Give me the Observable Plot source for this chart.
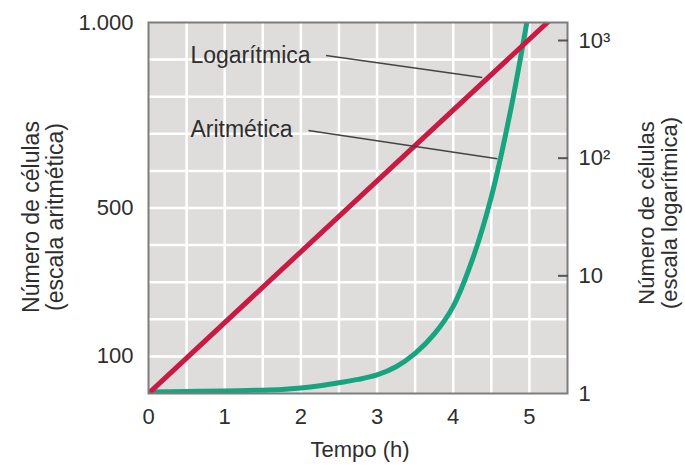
<!DOCTYPE html>
<html><head><meta charset="utf-8">
<script src="https://cdn.jsdelivr.net/npm/d3@7"></script>
<script src="https://cdn.jsdelivr.net/npm/@observablehq/plot@0.6"></script>
<style>body{margin:0;background:#fff}</style>
</head><body><div id="chart"></div>
<script>
// Arithmetic-scale curve (cells vs hours)
const hours = [0, 0.5, 1, 1.5, 1.75, 2, 2.25, 2.5, 2.75, 3, 3.25, 3.5, 3.75, 4, 4.25, 4.5, 4.75, 5];
const arithCells = [4, 5.5, 7, 9, 11, 15, 21, 29, 38, 50, 72, 108, 160, 235, 360, 530, 760, 1040];
// Log-scale line (cells vs hours), straight on the right-hand log axis
const logHours = [0, 5.25];
const logCells = [1, 1450];

const xTicks = [0, 1, 2, 3, 4, 5];
const xGrid = [0.5, 1, 1.5, 2, 2.5, 3, 3.5, 4, 4.5, 5];
const yGrid = [100, 200, 300, 400, 500, 600, 700, 800, 900];
const leftTicks = [100, 500, 1000];
const leftTickLabels = ["100", "500", "1.000"];
const rightTicks = [1, 10, 100, 1000];
const rightTickLabels = ["1", "10", "10²", "10³"];

const seriesLabels = ["Logarítmica", "Aritmética"];
const labelHours = [0.55, 0.55];
const labelCells = [911, 712];
const leaderFromHours = [2.33, 2.1];
const leaderFromCells = [911, 709];
const leaderToHours = [4.38, 4.58];
const leaderToCells = [852, 633];

// right axis: log10 of the count at the top of the frame
const logTop = 3.153;
const k = 1000 / logTop;
const toLeft = v => Math.log10(v) * k;

const arith = hours.map((h, i) => ({h, c: arithCells[i]}));
const logl = logHours.map((h, i) => ({h, c: logCells[i]}));
const labels = seriesLabels.map((t, i) => ({t, h: labelHours[i], c: labelCells[i]}));
const leaders = seriesLabels.map((t, i) => ({x1: leaderFromHours[i], y1: leaderFromCells[i], x2: leaderToHours[i], y2: leaderToCells[i]}));

const red = "#c81a42", green = "#17a47f", ink = "#2e2e2e";
const FS = 22, FT = 23;

const chart = Plot.plot({
  width: 685, height: 474,
  marginLeft: 148, marginRight: 118, marginTop: 22, marginBottom: 81,
  style: {fontFamily: "'Liberation Sans', Arial, Helvetica, sans-serif", fontSize: FS + "px", color: ink, background: "white"},
  x: {domain: [0, 5.5]},
  y: {domain: [0, 1000]},
  marks: [
    Plot.frame({fill: "#dfdddb"}),
    Plot.ruleX(xGrid, {stroke: "white", strokeWidth: 2.5}),
    Plot.ruleY(yGrid, {stroke: "white", strokeWidth: 2.5}),
    Plot.line(arith, {x: "h", y: "c", stroke: green, strokeWidth: 5, curve: "catmull-rom", clip: true}),
    Plot.line(logl, {x: "h", y: d => toLeft(d.c), stroke: red, strokeWidth: 5, clip: true}),
    Plot.link(leaders, {x1: "x1", y1: "y1", x2: "x2", y2: "y2", stroke: "#444", strokeWidth: 1.5}),
    Plot.text(labels, {x: "h", y: "c", text: "t", textAnchor: "start", fontSize: FT, fill: ink}),
    Plot.frame({stroke: "#7d7d7d", strokeWidth: 2}),
    Plot.axisX({ticks: xTicks, tickSize: 0, tickPadding: 15, fontSize: FS, label: null, fill: ink, tickFormat: d => String(d)}),
    Plot.axisY({anchor: "left", ticks: leftTicks, tickSize: 0, tickPadding: 15, fontSize: FS, label: null, fill: ink,
      tickFormat: d => leftTickLabels[leftTicks.indexOf(d)]}),
    Plot.axisY({anchor: "right", ticks: rightTicks.slice(1).map(toLeft), tickSize: 10, dx: -10, tickFormat: () => "",
      label: null, stroke: "#555", strokeWidth: 2}),
    Plot.axisY({anchor: "right", ticks: rightTicks.map(toLeft), tickSize: 0, tickPadding: 11, fontSize: FS, label: null, fill: ink,
      tickFormat: d => rightTickLabels[rightTicks.findIndex(v => Math.abs(toLeft(v) - d) < 1e-6)]}),
    Plot.text(["Número de células\n(escala aritmética)"], {frameAnchor: "left", textAnchor: "middle", lineAnchor: "middle", rotate: -90, dx: -105, dy: 9, fontSize: FT, lineHeight: 1.02, fill: ink}),
    Plot.text(["Número de células\n(escala logarítmica)"], {frameAnchor: "right", textAnchor: "middle", lineAnchor: "middle", rotate: -90, dx: 91, dy: 5, fontSize: 22, lineHeight: 1.02, fill: ink}),
    Plot.text(["Tempo (h)"], {frameAnchor: "bottom", dy: 63, dx: 2, fontSize: FS, fill: ink})
  ]
});
document.getElementById("chart").appendChild(chart);
</script>
</body></html>
